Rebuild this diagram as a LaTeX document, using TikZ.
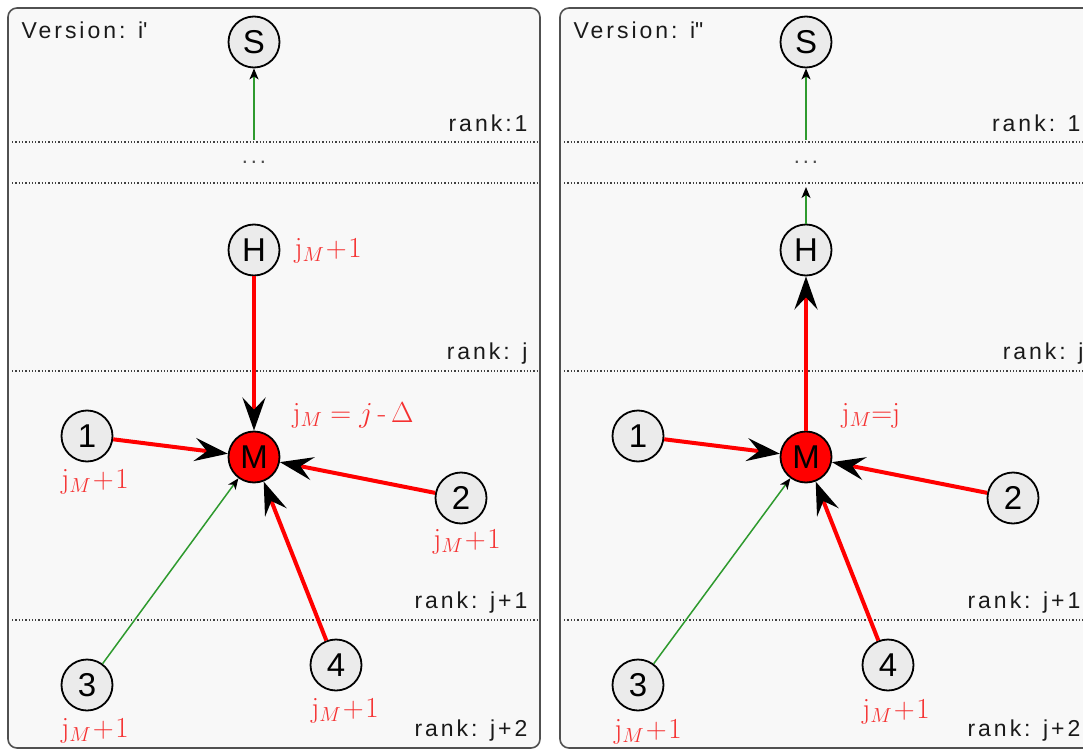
\RequirePackage{fix-cm}
\documentclass[tikz,border=0pt]{standalone}
\usepackage[no-math]{fontspec}
\setmainfont[LetterSpace=13]{Liberation Sans}
\usetikzlibrary{arrows.meta}

\definecolor{panelbg}{HTML}{F8F8F8}
\definecolor{panelgray}{HTML}{505050}
\definecolor{nodegray}{HTML}{EBEBEB}
\definecolor{edgegreen}{HTML}{2E9A2E}
\definecolor{labred}{HTML}{F53030}
\definecolor{rankgray}{HTML}{1A1A1A}

% label text: roman j with italic subscript M
\newcommand{\jplus}{$\mathrm{j}_M\mkern1mu{+}\mkern1mu1$}
\newcommand{\texthyphen}{\mbox{\fontfamily{lmr}\selectfont -}}

\begin{document}
\begin{tikzpicture}[x=1pt,y=-1pt,
  panel/.style={draw=panelgray, line width=1.6pt, fill=panelbg, rounded corners=9pt},
  rankline/.style={draw=black!75, line width=1.3pt, dotted},
  vertex/.style={circle, draw=black, line width=1.8pt, fill=nodegray, minimum size=51pt,
                 inner sep=0pt, font=\fontsize{33}{33}\selectfont},
  mnode/.style={vertex, fill=red},
  tag/.style={text=labred, font=\fontsize{29}{29}\selectfont},
  ranktext/.style={anchor=base east, text=rankgray, font=\fontsize{23}{23}\selectfont},
  vertext/.style={anchor=base west, text=rankgray, font=\fontsize{23}{23}\selectfont},
  dots/.style={text=black!70, font=\fontsize{22}{22}\selectfont},
  strong/.style={draw=red, line width=4pt,
                 -{Stealth[length=33pt,width=23pt,inset=12pt,color=black]}},
  weak/.style={draw=edgegreen, line width=1.5pt,
               -{Stealth[length=11pt,width=9pt,inset=3pt,color=black]}},
]
\useasboundingbox (0,0) rectangle (1083,751);

% ---------------- left panel: version i'
\path[panel] (8,8) rectangle (540,748);
\draw[rankline] (12,142) -- (538,142);
\draw[rankline] (12,183) -- (538,183);
\draw[rankline] (12,371) -- (538,371);
\draw[rankline] (12,620) -- (538,620);

\node[vertext]  (verA) at (18,39) {Version: i\textquotesingle};
\node[ranktext] (rA1) at (531,132) {rank:1};
\node[ranktext] (rAj) at (531,359) {rank: j};
\node[ranktext] (rAj1) at (531,608) {rank: j+1};
\node[ranktext] (rAj2) at (531,736) {rank: j+2};
\node[dots] (dotsA) at (254,162) {...};

\node[vertex] (SA) at (254,42) {S};
\node[vertex] (HA) at (254,250) {H};
\node[mnode]  (MA) at (254,457) {M};
\node[vertex] (oneA) at (87,436) {1};
\node[vertex] (twoA) at (461,498) {2};
\node[vertex] (threeA) at (87,685) {3};
\node[vertex] (fourA) at (336,665) {4};

\coordinate (upA) at (254,140);
\draw[weak] (upA) -- (SA);
\draw[strong] (HA) -- (MA);
\draw[strong] (oneA) -- (MA);
\draw[strong] (twoA) -- (MA);
\draw[weak] (threeA) -- (MA);
\draw[strong] (fourA) -- (MA);

\node[tag, anchor=base west] (tHA) at (291,257) {\jplus};
\node[tag, anchor=base west] (tMA) at (289,422) {$\mathrm{j}_M=j\,\texthyphen\,\Delta$};
\node[tag, anchor=base] (t1A) at (95,488) {\jplus};
\node[tag, anchor=base] (t2A) at (467,548) {\jplus};
\node[tag, anchor=base] (t3A) at (95,737) {\jplus};
\node[tag, anchor=base] (t4A) at (345,717) {\jplus};

% ---------------- right panel: version i''
\path[panel] (560,8) rectangle (1092,748);
\draw[rankline] (564,142) -- (1083,142);
\draw[rankline] (564,183) -- (1083,183);
\draw[rankline] (564,371) -- (1083,371);
\draw[rankline] (564,620) -- (1083,620);

\node[vertext]  (verB) at (570,39) {Version: i\textquotedbl};
\node[ranktext] (rB1) at (1084,132) {rank: 1};
\node[ranktext] (rBj) at (1087,359) {rank: j};
\node[ranktext] (rBj1) at (1084,608) {rank: j+1};
\node[ranktext] (rBj2) at (1084,736) {rank: j+2};
\node[dots] (dotsB) at (806,162) {...};

\node[vertex] (SB) at (806,42) {S};
\node[vertex] (HB) at (806,250) {H};
\node[mnode]  (MB) at (806,457) {M};
\node[vertex] (oneB) at (638,436) {1};
\node[vertex] (twoB) at (1013,498) {2};
\node[vertex] (threeB) at (638,685) {3};
\node[vertex] (fourB) at (888,665) {4};

\coordinate (upB) at (806,140);
\coordinate (topB) at (806,187);
\draw[weak] (upB) -- (SB);
\draw[weak] (HB) -- (topB);
\draw[strong] (MB) -- (HB);
\draw[strong] (oneB) -- (MB);
\draw[strong] (twoB) -- (MB);
\draw[weak] (threeB) -- (MB);
\draw[strong] (fourB) -- (MB);

\node[tag, anchor=base west] (tMB) at (838,422) {$\mathrm{j}_M{=}\mathrm{j}$};
\node[tag, anchor=base] (t3B) at (648,738) {\jplus};
\node[tag, anchor=base] (t4B) at (896,718) {\jplus};
\end{tikzpicture}
\end{document}
